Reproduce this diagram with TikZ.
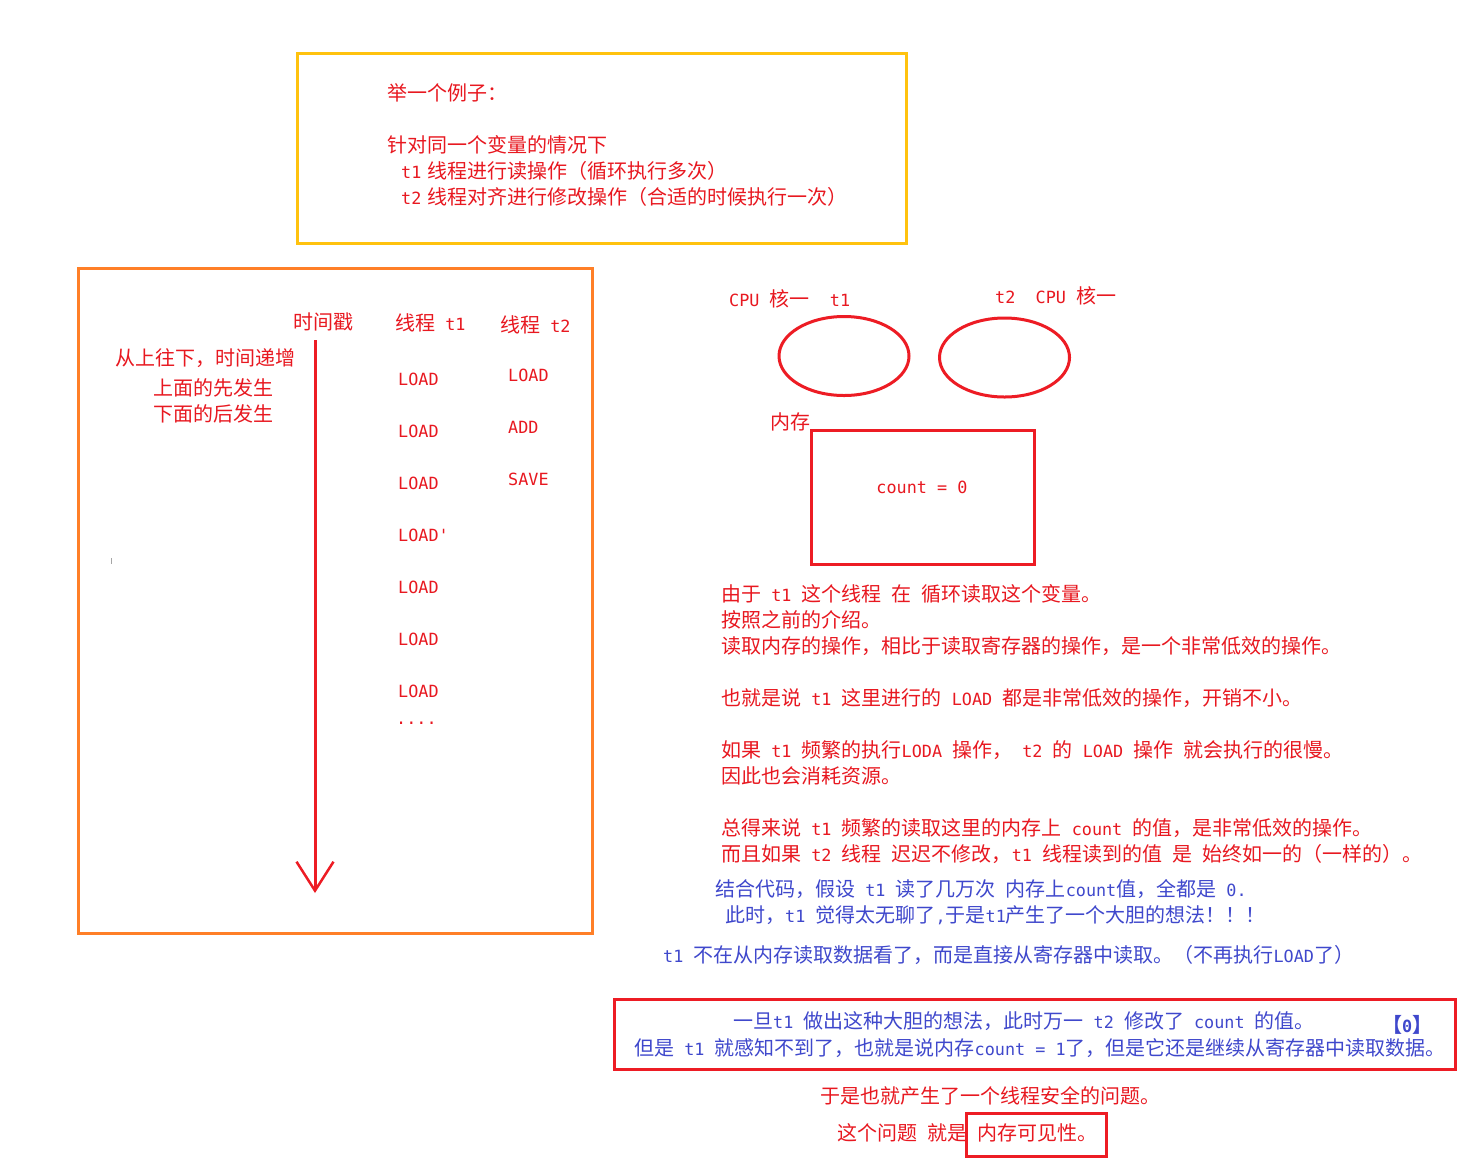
\documentclass[tikz,border=0pt]{standalone}
\usepackage{fontspec}
\setmainfont{Noto Sans CJK SC}
\newfontfamily\monof{DejaVu Sans Mono}
\usetikzlibrary{shapes.geometric,arrows.meta}
\newcommand\en[1]{{\monof\fontsize{16.8}{20}\selectfont #1}}
\definecolor{tred}{RGB}{232,24,32}
\definecolor{bred}{RGB}{237,28,36}
\definecolor{tblue}{RGB}{63,72,204}
\definecolor{byellow}{RGB}{255,194,14}
\definecolor{borange}{RGB}{255,127,39}
\begin{document}
\begin{tikzpicture}[x=1pt,y=-1pt,
  txt/.style={anchor=west,inner sep=0pt,text=tred,font=\fontsize{20}{24}\selectfont},
  btxt/.style={txt,text=tblue},
  frame/.style={draw,line width=3pt,inner sep=0pt,rectangle},
  core/.style={draw=bred,line width=3pt,ellipse,inner sep=0pt,minimum width=130pt,minimum height=79pt},
  timeline/.style={draw=bred,line width=3pt,-{Straight Barb[length=29pt,width=37pt,line width=2.5pt]}}
]
\useasboundingbox (0,0) rectangle (1463,1163);
\fill[white] (0,0) rectangle (1463,1163);

% top yellow box
\node[frame,draw=byellow,minimum width=609pt,minimum height=190pt] (ybox) at (601.5,148) {};
\node[txt] (y1) at (387,93) {举一个例子：};
\node[txt] (y2) at (387,145) {针对同一个变量的情况下};
\node[txt] (y3) at (401,171) {\en{t1}\hspace{6pt}线程进行读操作（循环执行多次）};
\node[txt] (y4) at (401,197) {\en{t2}\hspace{6pt}线程对齐进行修改操作（合适的时候执行一次）};

% left orange box
\node[frame,draw=borange,minimum width=514pt,minimum height=665pt] (obox) at (335,600.5) {};
\node[txt] (hts) at (293,322) {时间戳};
\node[txt] (ht1) at (395,323) {线程\en{ t1}};
\node[txt] (ht2) at (500,325) {线程\en{ t2}};
\node[txt] (l1) at (115,358) {从上往下，时间递增};
\node[txt] (l2) at (153,388) {上面的先发生};
\node[txt] (l3) at (153,414) {下面的后发生};
\coordinate (tA) at (315,340);
\coordinate (tB) at (315,893);
\draw[timeline] (tA) -- (tB);
\draw[gray!70,line width=1pt] (111,558) -- (111,564);

\node[txt] (a1) at (398,379) {\en{LOAD}};
\node[txt] (a2) at (398,431) {\en{LOAD}};
\node[txt] (a3) at (398,483) {\en{LOAD}};
\node[txt] (a4) at (398,535) {\en{LOAD'}};
\node[txt] (a5) at (398,587) {\en{LOAD}};
\node[txt] (a6) at (398,639) {\en{LOAD}};
\node[txt] (a7) at (398,691) {\en{LOAD}};
\node[txt,anchor=base west] (a8) at (396,724) {\en{....}};
\node[txt] (b1) at (508,375) {\en{LOAD}};
\node[txt] (b2) at (508,427) {\en{ADD}};
\node[txt] (b3) at (508,479) {\en{SAVE}};

% right: cores and memory
\node[txt] (c1l) at (729,299) {\en{CPU }核一\en{~~t1}};
\node[txt] (c2l) at (995,296) {\en{t2~~CPU }核一};
\node[core] (core1) at (844,356) {};
\node[core] (core2) at (1004.5,357.5) {};
\node[txt] (meml) at (770,422) {内存};
\node[frame,draw=bred,minimum width=223pt,minimum height=134pt] (mem) at (922.5,497) {};
\node[txt,anchor=center] (cnt) at (922,487) {\en{count = 0}};

% explanation (red)
\node[txt] (r1) at (721,594) {由于\en{ t1 }这个线程\en{ }在\en{ }循环读取这个变量。};
\node[txt] (r2) at (721,620) {按照之前的介绍。};
\node[txt] (r3) at (721,646) {读取内存的操作，相比于读取寄存器的操作，是一个非常低效的操作。};
\node[txt] (r4) at (721,698) {也就是说\en{ t1 }这里进行的\en{ LOAD }都是非常低效的操作，开销不小。};
\node[txt] (r5) at (721,750) {如果\en{ t1 }频繁的执行\en{LODA }操作，\en{ t2 }的\en{ LOAD }操作\en{ }就会执行的很慢。};
\node[txt] (r6) at (721,776) {因此也会消耗资源。};
\node[txt] (r7) at (721,828) {总得来说\en{ t1 }频繁的读取这里的内存上\en{ count }的值，是非常低效的操作。};
\node[txt] (r8) at (721,854) {而且如果\en{ t2 }线程\en{ }迟迟不修改，\en{t1 }线程读到的值\en{ }是\en{ }始终如一的（一样的）。};

% blue
\node[btxt] (u1) at (715,889) {结合代码，假设\en{ t1 }读了几万次\en{ }内存上\en{count}值，全都是\en{ 0.}};
\node[btxt] (u2) at (725,915) {此时，\en{t1 }觉得太无聊了\en{,}于是\en{t1}产生了一个大胆的想法！！！};
\node[btxt] (u3) at (663,955) {\en{t1 }不在从内存读取数据看了，而是直接从寄存器中读取。（不再执行\en{LOAD}了）};

% bottom boxes
\node[frame,draw=bred,minimum width=841pt,minimum height=70pt] (rbox) at (1034.5,1034) {};
\node[btxt] (v1) at (733,1021) {一旦\en{t1 }做出这种大胆的想法，此时万一\en{ t2 }修改了\en{ count }的值。};
\node[btxt] (v0) at (1382,1025) {\bfseries【\en{\bfseries 0}】};
\node[btxt] (v2) at (634,1048) {但是\en{ t1 }就感知不到了，也就是说内存\en{count = 1}了，但是它还是继续从寄存器中读取数据。};
\node[txt] (w1) at (820,1096) {于是也就产生了一个线程安全的问题。};
\node[txt] (w2) at (837,1133) {这个问题\en{ }就是};
\node[frame,draw=bred,minimum width=140pt,minimum height=43pt] (vbox) at (1036,1134.5) {};
\node[txt] (w3) at (977,1133) {内存可见性。};
\end{tikzpicture}
\end{document}
